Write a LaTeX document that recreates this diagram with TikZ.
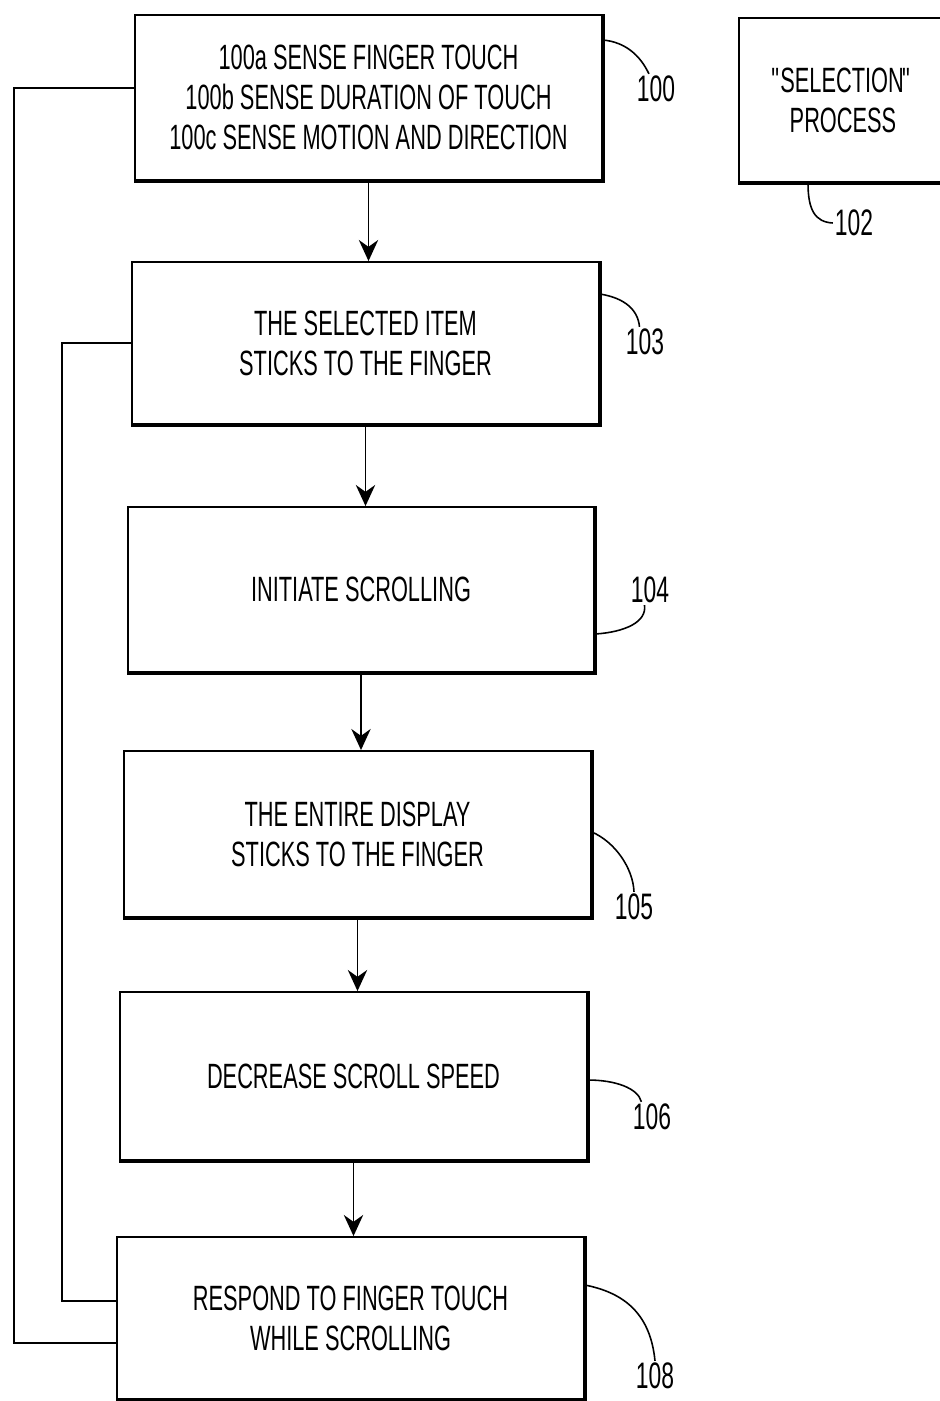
\documentclass[tikz,border=0pt]{standalone}
\usepackage{fontspec}
\setmainfont[FakeStretch=0.62]{Liberation Sans}
\usetikzlibrary{arrows.meta,calc}

\begin{document}
\begin{tikzpicture}[x=0.02cm,y=-0.02cm,
  stepbox/.style={draw,line width=1.1pt,minimum width=9.34cm,align=center,inner sep=0pt,font=\fontsize{20}{22.8}\selectfont},
  flow/.style={line width=1.1pt,-{Stealth[length=12pt,width=11pt]}},
  back/.style={line width=1pt},
  lead/.style={line width=0.9pt},
  num/.style={inner sep=1pt,font=\fontsize{21}{22}\selectfont}]
\useasboundingbox (0,0) rectangle (940,1401);

\node[stepbox,minimum height=3.3cm] (s100) at (368.5,97.5) {100a SENSE FINGER TOUCH\\100b SENSE DURATION OF TOUCH\\100c SENSE MOTION AND DIRECTION};
\node[stepbox,minimum width=4.16cm,minimum height=3.28cm] (s102) at (843,100) {\textquotedbl\kern-2pt SELECTION\kern-1pt\textquotedbl\\PROCESS};
\node[stepbox,minimum height=3.24cm] (s103) at (365.5,343) {THE SELECTED ITEM\\STICKS TO THE FINGER};
\node[stepbox,minimum height=3.3cm] (s104) at (361,589.5) {INITIATE SCROLLING};
\node[stepbox,minimum height=3.32cm] (s105) at (357.5,834) {THE ENTIRE DISPLAY\\STICKS TO THE FINGER};
\node[stepbox,minimum height=3.36cm] (s106) at (353.5,1076) {DECREASE SCROLL SPEED};
\node[stepbox,minimum height=3.24cm] (s108) at (350.5,1318) {RESPOND TO FINGER TOUCH\\WHILE SCROLLING};

\foreach \n in {s100,s102,s103,s104,s105,s106,s108}
  \draw[line width=2.2pt] (\n.north east)--(\n.south east)--(\n.south west);

\draw[flow] (s100.south) -- (s100.south |- s103.north);
\draw[flow] (s103.south) -- (s103.south |- s104.north);
\draw[flow] (s104.south) -- (s104.south |- s105.north);
\draw[flow] (s105.south) -- (s105.south |- s106.north);
\draw[flow] (s106.south) -- (s106.south |- s108.north);

\draw[back] (s100.west |- 0,88) -- (14,88) |- (s108.west |- 0,1343);
\draw[back] (s103.west) -- (62,343) |- (s108.west |- 0,1301);

\node[num] (l100) at (656,89) {100};
\node[num] (l102) at (854,223) {102};
\node[num] (l103) at (645,342) {103};
\node[num] (l104) at (650,590) {104};
\node[num] (l105) at (634,907) {105};
\node[num] (l106) at (652,1117) {106};
\node[num] (l108) at (655,1376) {108};

\draw[lead] (s100.east |- 0,40) .. controls (625,42) and (640,55) .. (l100.115);
\draw[lead] (s102.south -| 808,0) .. controls (808,210) and (815,222) .. (l102.west);
\draw[lead] (s103.east |- 0,294) .. controls (625,298) and (638,310) .. (l103.110);
\draw[lead] (s104.east |- 0,634) .. controls (625,632) and (647,622) .. (l104.250);
\draw[lead] (s105.east |- 0,832) .. controls (615,842) and (633,868) .. (l105.north);
\draw[lead] (s106.east |- 0,1080) .. controls (615,1080) and (638,1088) .. (l106.125);
\draw[lead] (s108.east |- 0,1285) .. controls (620,1292) and (650,1310) .. (l108.north);
\end{tikzpicture}
\end{document}
